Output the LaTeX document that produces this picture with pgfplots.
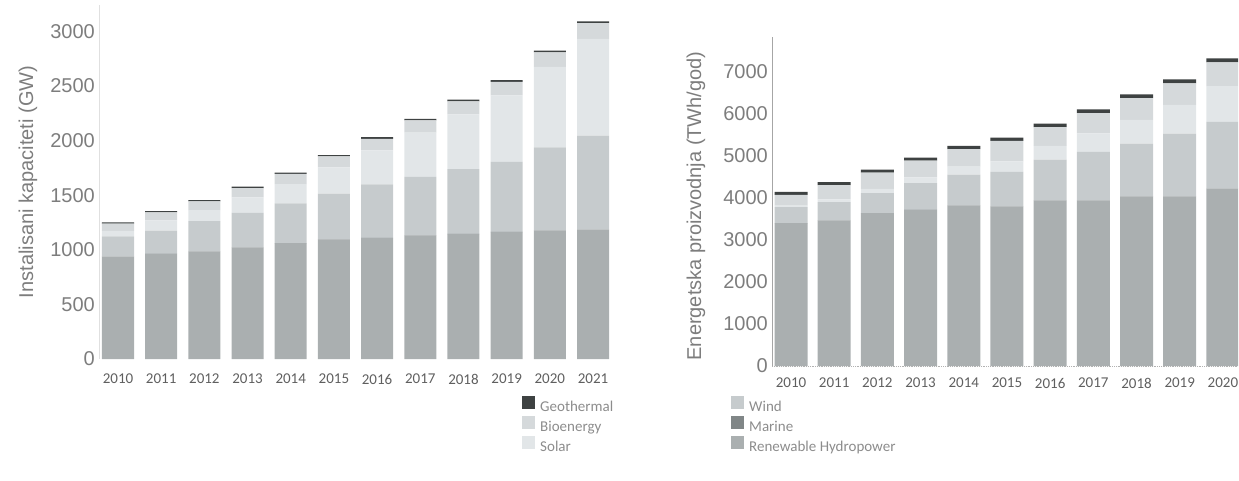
\documentclass[border=0pt]{standalone}
\usepackage{fontspec}
\setmainfont{Liberation Sans}
\newfontfamily\arialf{Liberation Sans}
\newfontfamily\calib{Carlito}
\usepackage{pgfplots}
\pgfplotsset{compat=1.18}
\usepackage{pgfplotstable}

\definecolor{hydroc}{RGB}{170,175,176}
\definecolor{marinec}{RGB}{128,134,135}
\definecolor{windc}{RGB}{198,203,205}
\definecolor{solarc}{RGB}{226,230,232}
\definecolor{bioc}{RGB}{213,217,219}
\definecolor{geoc}{RGB}{62,66,66}
\definecolor{tickgray}{RGB}{125,125,125}
\definecolor{yeargray}{RGB}{95,95,95}
\definecolor{leggray}{RGB}{140,140,140}

% Installed capacity (GW)
\pgfplotstableread{
x hydro marine wind solar bio geo
0 938 0.5 185 51 66 12
1 963 0.5 212 95 72 12
2 985 0.5 277 102 79 12
3 1022 0.5 316 142 86 12
4 1062 0.5 363 177 93 13
5 1092 0.5 422 241 100 13
6 1108 0.5 492 310 107 14
7 1129 0.5 539 405 113 14
8 1145 0.5 593 503 119 15
9 1163 0.5 643 608 125 15
10 1178 0.5 760 738 133 16
11 1185 0.5 861 887 143 16
}\leftdata

% Energy production (TWh/god)
\pgfplotstableread{
x hydro marine wind solar bio geo
0 3397 1 382 32 260 68
1 3460 1 438 63 343 70
2 3635 1 478 99 386 70
3 3715 1 636 135 397 72
4 3818 1 732 190 416 77
5 3794 1 820 251 487 80
6 3938 1 970 329 446 83
7 3938 1 1153 444 479 86
8 4033 1 1257 562 517 89
9 4033 1 1496 681 514 92
10 4216 1 1591 848 568 94
}\rightdata

\pgfplotsset{
  barchart/.style={
    scale only axis, anchor=south west,
    ybar stacked,
    axis lines*=left,
    major tick length=0pt,
    ymin=0,
    yticklabel style={font=\arialf\fontsize{20}{24}\selectfont, text=tickgray, inner sep=0pt, xshift=-4pt},
    xticklabel style={font=\calib\fontsize{15}{18}\selectfont, text=yeargray, inner sep=0pt},
    ylabel style={font=\arialf\fontsize{20}{24}\selectfont, text=tickgray, anchor=center},
  },
  legbox/.style={
    scale only axis, anchor=south west, at={(0pt,0pt)},
    width=1239pt, height=480pt, xmin=0, xmax=1239, ymin=0, ymax=480, hide axis,
    legend cell align=left,
    legend image code/.code={\path[##1] (0pt,-1.5pt) rectangle (13pt,11.5pt);},
    legend style={anchor=north west, draw=none, fill=none, inner sep=0pt,
      column sep=5pt, row sep=1pt,
      font=\calib\fontsize{15}{18}\selectfont, text=leggray,
      nodes={inner sep=0pt, text height=11.5pt, text depth=3.5pt}},
  },
}

\begin{document}
\begin{tikzpicture}
\path[use as bounding box] (0pt,0pt) rectangle (1239pt,480pt);

\begin{axis}[barchart,
  at={(99pt,121pt)}, width=513pt, height=354pt,
  xmin=-0.44, xmax=11.44, ymax=3243,
  bar width=32pt,
  x axis line style={draw=none},
  y axis line style={draw=black!12, line width=0.8pt},
  xticklabel style={yshift=-15pt},
  xtick={0,...,11},
  xticklabels={2010,2011,2012,2013,2014,2015,2016,2017,2018,2019,2020,2021},
  ytick={0,500,1000,1500,2000,2500,3000},
  yticklabels={0,500,1000,1500,2000,2500,3000},
  ylabel={Instalisani kapaciteti (GW)},
  ylabel style={at={(axis description cs:-0.1384,0.5)}},
]
\addplot[fill=hydroc, draw=none] table[x=x,y=hydro]{\leftdata};
\addplot[fill=marinec, draw=none] table[x=x,y=marine]{\leftdata};
\addplot[fill=windc, draw=none] table[x=x,y=wind]{\leftdata};
\addplot[fill=solarc, draw=none] table[x=x,y=solar]{\leftdata};
\addplot[fill=bioc, draw=none] table[x=x,y=bio]{\leftdata};
\addplot[fill=geoc, draw=none] table[x=x,y=geo]{\leftdata};
\end{axis}

\begin{axis}[barchart,
  at={(772pt,114pt)}, width=466pt, height=329.4pt,
  xmin=-0.44, xmax=10.35, ymax=7835,
  bar width=33pt,
  x axis line style={draw=black!30, densely dotted, line width=0.8pt},
  y axis line style={draw=black!35, line width=0.8pt},
  xticklabel style={yshift=-12pt},
  xtick={0,...,10},
  xticklabels={2010,2011,2012,2013,2014,2015,2016,2017,2018,2019,2020},
  ytick={0,1000,2000,3000,4000,5000,6000,7000},
  yticklabels={0,1000,2000,3000,4000,5000,6000,7000},
  ylabel={Energetska proizvodnja (TWh/god)},
  ylabel style={at={(axis description cs:-0.1631,0.486)}},
]
\addplot[fill=hydroc, draw=none] table[x=x,y=hydro]{\rightdata};
\addplot[fill=marinec, draw=none] table[x=x,y=marine]{\rightdata};
\addplot[fill=windc, draw=none] table[x=x,y=wind]{\rightdata};
\addplot[fill=solarc, draw=none] table[x=x,y=solar]{\rightdata};
\addplot[fill=bioc, draw=none] table[x=x,y=bio]{\rightdata};
\addplot[fill=geoc, draw=none] table[x=x,y=geo]{\rightdata};
\end{axis}

\begin{axis}[legbox, legend style={at={(0.42131,0.17604)}}]
\addlegendimage{fill=geoc, draw=none}
\addlegendentry{Geothermal}
\addlegendimage{fill=bioc, draw=none}
\addlegendentry{Bioenergy}
\addlegendimage{fill=solarc, draw=none}
\addlegendentry{Solar}
\end{axis}

\begin{axis}[legbox, legend style={at={(0.58999,0.17604)}}]
\addlegendimage{fill=windc, draw=none}
\addlegendentry{Wind}
\addlegendimage{fill=marinec, draw=none}
\addlegendentry{Marine}
\addlegendimage{fill=hydroc, draw=none}
\addlegendentry{Renewable Hydropower}
\end{axis}
\end{tikzpicture}
\end{document}
